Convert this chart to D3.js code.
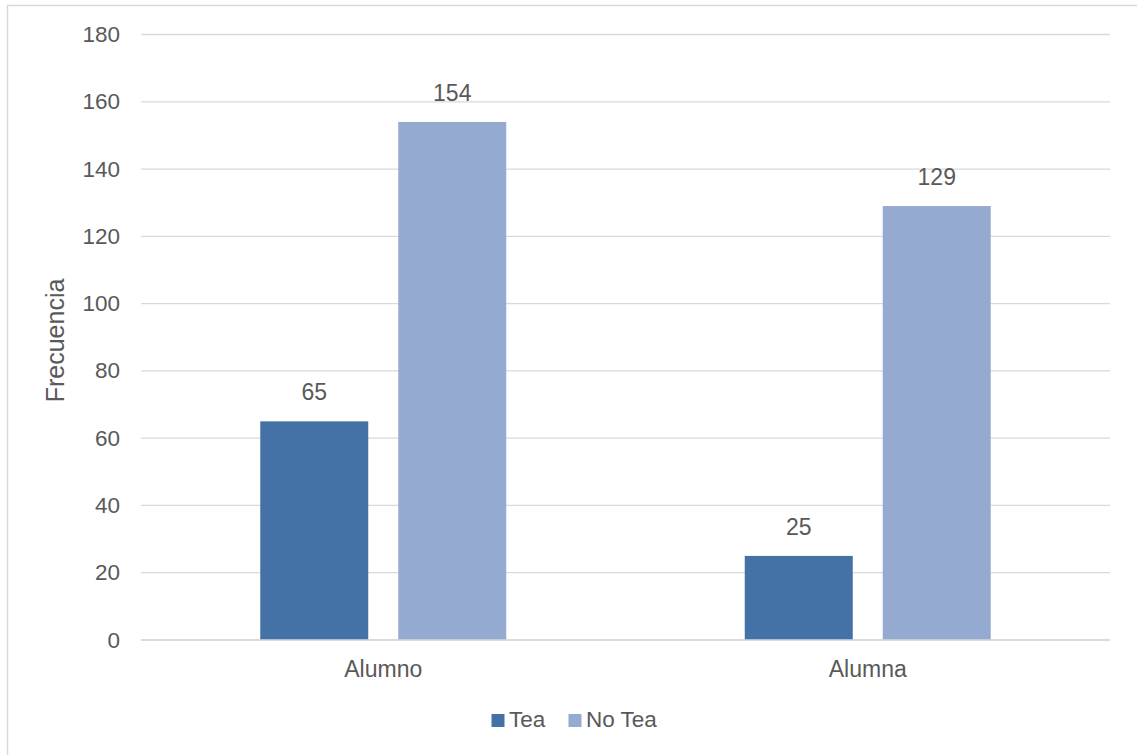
<!DOCTYPE html>
<html>
<head>
<meta charset="utf-8">
<script src="https://cdn.jsdelivr.net/npm/d3@7"></script>
<style>
  body { margin: 0; background: #fff; }
  text { font-family: "Liberation Sans", Arial, sans-serif; fill: #595959; }
</style>
</head>
<body>
<svg width="1137" height="755"></svg>
<script>
// chart data
var categories = ["Alumno", "Alumna"];
var seriesNames = ["Tea", "No Tea"];
var teaValues = [65, 25];
var noTeaValues = [154, 129];
var yTicks = [0, 20, 40, 60, 80, 100, 120, 140, 160, 180];
var colors = ["#4472a6", "#95aad1"];

var svg = d3.select("svg");
var plotL = 141, plotR = 1110, plotT = 34.5, plotB = 640;

// outer frame
svg.append("rect").attr("x", 7.5).attr("y", 5.5)
    .attr("width", 1140).attr("height", 760)
    .attr("fill", "none").attr("stroke", "#d9d9d9").attr("stroke-width", 1.5);

var scX = d3.scaleBand().domain(categories).range([plotL, plotR]);
// two bars of 108px with a 30px gap, centred in each band
var scS = d3.scaleBand().domain(seriesNames)
    .range([scX.bandwidth() / 2 - 123, scX.bandwidth() / 2 + 123])
    .paddingInner(30 / 138);
var scY = d3.scaleLinear().domain([0, 180]).range([plotB, plotT]);

// gridlines
svg.append("g").selectAll("line").data(yTicks).enter().append("line")
    .attr("x1", plotL).attr("x2", plotR)
    .attr("y1", d => scY(d)).attr("y2", d => scY(d))
    .attr("stroke", "#d9d9d9").attr("stroke-width", 1.3);

// y tick labels
svg.append("g").selectAll("text").data(yTicks).enter().append("text")
    .attr("x", 120).attr("y", d => scY(d) + 7.5)
    .attr("text-anchor", "end").attr("font-size", 22.5)
    .text(d => d);

// axis title
svg.append("text")
    .attr("transform", "translate(64,340.5) rotate(-90)")
    .attr("text-anchor", "middle").attr("font-size", 25)
    .text("Frecuencia");

var rows = categories.map((c, i) => ({ cat: c, vals: [teaValues[i], noTeaValues[i]] }));

var groups = svg.append("g").selectAll("g").data(rows).enter().append("g")
    .attr("transform", d => "translate(" + scX(d.cat) + ",0)");

groups.selectAll("rect").data(d => d.vals.map((v, j) => ({ s: seriesNames[j], v: v, j: j })))
    .enter().append("rect")
    .attr("x", d => scS(d.s)).attr("width", scS.bandwidth())
    .attr("y", d => scY(d.v)).attr("height", d => scY(0) - scY(d.v))
    .attr("fill", d => colors[d.j]);

groups.selectAll("text").data(d => d.vals.map((v, j) => ({ s: seriesNames[j], v: v })))
    .enter().append("text")
    .attr("x", d => scS(d.s) + scS.bandwidth() / 2)
    .attr("y", d => scY(d.v) - 21)
    .attr("text-anchor", "middle").attr("font-size", 23)
    .text(d => d.v);

// baseline on top of bars
svg.append("line").attr("x1", plotL).attr("x2", plotR)
    .attr("y1", scY(0)).attr("y2", scY(0))
    .attr("stroke", "#d9d9d9").attr("stroke-width", 1.3);

// category labels
svg.append("g").selectAll("text").data(categories).enter().append("text")
    .attr("x", d => scX(d) + scX.bandwidth() / 2).attr("y", 677)
    .attr("text-anchor", "middle").attr("font-size", 23)
    .text(d => d);

// legend
var legendX = [491.5, 568.5];
var lg = svg.append("g").selectAll("g").data(seriesNames).enter().append("g")
    .attr("transform", (d, i) => "translate(" + legendX[i] + ",714)");
lg.append("rect").attr("width", 13).attr("height", 13).attr("fill", (d, i) => colors[i]);
lg.append("text").attr("x", 17.5).attr("y", 13).attr("font-size", 22.5).text(d => d);
</script>
</body>
</html>
